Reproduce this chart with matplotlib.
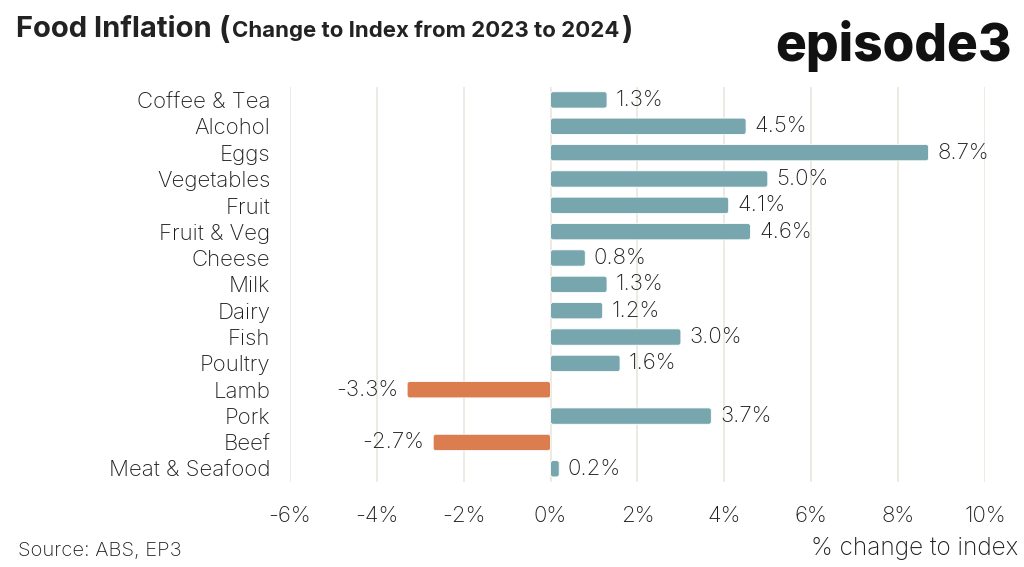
import matplotlib.pyplot as plt
from matplotlib.patches import FancyBboxPatch

# data (top to bottom)
categories = ['Coffee & Tea', 'Alcohol', 'Eggs', 'Vegetables', 'Fruit', 'Fruit & Veg',
              'Cheese', 'Milk', 'Dairy', 'Fish', 'Poultry', 'Lamb', 'Pork', 'Beef',
              'Meat & Seafood']
values = [1.3, 4.5, 8.7, 5.0, 4.1, 4.6, 0.8, 1.3, 1.2, 3.0, 1.6, -3.3, 3.7, -2.7, 0.2]
ticks = [-6, -4, -2, 0, 2, 4, 6, 8, 10]

teal = '#78a6ae'
orange = '#db7d4f'
grid_col = '#e9e6dc'
txt = '#1e1e1e'

plt.rcParams['font.family'] = ['Inter', 'DejaVu Sans']
fs = 16

fig = plt.figure(figsize=(10.24, 5.67), dpi=100)
ax = fig.add_axes([0.283, 0.150, 0.679, 0.697])

pos = list(range(len(categories)))
colors = [teal if v >= 0 else orange for v in values]
bars = ax.barh(pos, values, height=0.62, color=colors, zorder=3)

# rounded bar ends
for b in bars:
    x0, y0, w, h = b.get_x(), b.get_y(), b.get_width(), b.get_height()
    if w < 0:
        x0, w = x0 + w, -w
    rb = FancyBboxPatch((x0, y0), w, h, boxstyle='round,pad=0,rounding_size=0.06',
                        mutation_aspect=1.6, facecolor=b.get_facecolor(),
                        edgecolor='white', linewidth=0.6, zorder=3)
    b.remove()
    ax.add_patch(rb)

for p, v in zip(pos, values):
    if v >= 0:
        ax.text(v + 0.2, p, f'{v:.1f}%', va='center', ha='left', fontsize=fs,
                fontweight='light', color=txt, zorder=4)
    else:
        ax.text(v - 0.2, p, f'{v:.1f}%', va='center', ha='right', fontsize=fs,
                fontweight='light', color=txt, zorder=4)

ax.set_xlim(-6, 10)
ax.set_ylim(len(categories) - 0.5, -0.5)
ax.set_xticks(ticks)
ax.set_xticklabels([f'{t}%' for t in ticks], fontsize=fs, fontweight='light', color=txt)
ax.set_yticks(pos)
ax.set_yticklabels(categories, fontsize=fs, fontweight='light', color=txt)
ax.tick_params(length=0)
ax.tick_params(axis='y', pad=14)
ax.tick_params(axis='x', pad=17)
ax.grid(axis='x', color=grid_col, linewidth=1.2, zorder=0)
for s in ax.spines.values():
    s.set_visible(False)

# title in two sizes, placed one after the other
ty = 0.935
t1 = fig.text(0.016, ty, 'Food Inflation', fontsize=21, fontweight='bold',
              color='#222222', va='baseline', ha='left')
fig.canvas.draw()
x1 = t1.get_window_extent().x1 / fig.bbox.width
t2 = fig.text(x1 + 0.006, ty - 0.004, '(', fontsize=22, fontweight='bold', color='#222222',
              va='baseline', ha='left')
fig.canvas.draw()
x2 = t2.get_window_extent().x1 / fig.bbox.width
t3 = fig.text(x2 + 0.002, ty, 'Change to Index from 2023 to 2024', fontsize=16,
              fontweight='bold', color='#222222', va='baseline', ha='left')
fig.canvas.draw()
x3 = t3.get_window_extent().x1 / fig.bbox.width
fig.text(x3 + 0.002, ty - 0.004, ')', fontsize=22, fontweight='bold', color='#222222',
         va='baseline', ha='left')

fig.text(0.988, 0.918, 'episode3', fontsize=37, fontweight='heavy', color='#111111',
         va='center', ha='right')
fig.text(0.018, 0.013, 'Source: ABS, EP3', fontsize=14.5, fontweight='light', color=txt,
         va='bottom', ha='left')
fig.text(0.994, 0.013, '% change to index', fontsize=17.5, fontweight='light', color=txt,
         va='bottom', ha='right')

fig.savefig('out.png', dpi=100)
